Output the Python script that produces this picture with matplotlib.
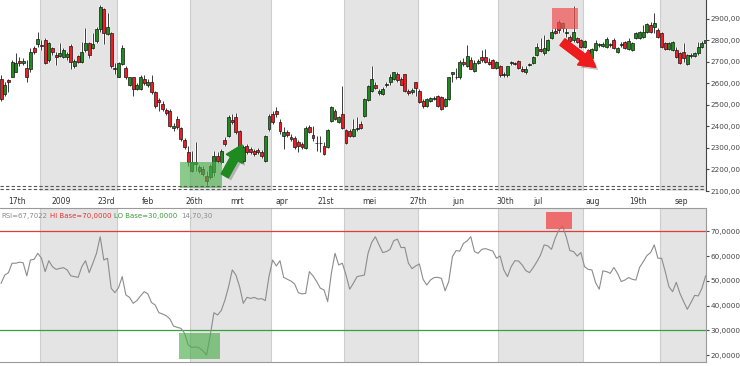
import matplotlib
matplotlib.use("Agg")
import matplotlib.pyplot as plt
import matplotlib.patheffects as pe
from matplotlib.patches import Rectangle
import numpy as np

# daily candles, mid Dec 2008 .. early Sep 2009
opens = [2619, 2549, 2614, 2632, 2655, 2706, 2697, 2674, 2665, 2766, 2785,
         2780, 2803, 2711, 2766, 2734, 2729, 2725, 2725, 2775, 2679, 2729, 2702, 2757, 2789, 2766, 2798, 2854, 2946, 2831, 2835, 2674,
         2632, 2692, 2674, 2591, 2628, 2572, 2572, 2619, 2591, 2609, 2559, 2522, 2503, 2475, 2471, 2392, 2434, 2392, 2337, 2282,
         2194, 2226, 2194, 2203, 2171, 2166, 2189, 2263, 2235, 2337, 2355, 2429, 2443, 2379, 2240, 2309, 2295, 2286, 2291, 2282, 2240, 2388,
         2457, 2471, 2420, 2355, 2374, 2351, 2346, 2328, 2318, 2300, 2397, 2360, 2325, 2321, 2309, 2305, 2425, 2471, 2420, 2457,
         2383, 2379, 2355, 2390, 2411, 2448, 2522, 2563, 2591, 2554, 2549, 2593, 2605, 2619, 2646, 2623, 2642, 2563, 2559, 2605,
         2563, 2517, 2494, 2517, 2529, 2540, 2535, 2494, 2526, 2642, 2632, 2628, 2702, 2679, 2711, 2660, 2697, 2725, 2725, 2702, 2711, 2674,
         2679, 2640, 2637, 2695, 2697, 2706, 2669, 2651, 2686, 2697, 2734, 2762, 2743, 2757, 2812, 2845, 2886, 2858, 2833, 2817, 2803, 2812, 2803,
         2771, 2743, 2720, 2757, 2778, 2775, 2771, 2782, 2803, 2748, 2778, 2794, 2762, 2757, 2812, 2812, 2817, 2840, 2872, 2863, 2849,
         2835, 2789, 2762, 2757, 2757, 2743, 2748, 2692, 2734, 2729, 2743, 2771, 2789]
highs = [2637, 2605, 2619, 2711, 2743, 2725, 2720, 2711, 2766, 2775, 2840,
         2803, 2812, 2794, 2771, 2748, 2789, 2766, 2748, 2785, 2715, 2734, 2794, 2858, 2794, 2835, 2863, 2965, 2951, 2928, 2840, 2697,
         2702, 2780, 2679, 2632, 2632, 2600, 2637, 2637, 2619, 2637, 2563, 2531, 2517, 2485, 2480, 2415, 2448, 2397, 2346, 2309,
         2286, 2328, 2222, 2217, 2194, 2226, 2286, 2282, 2295, 2351, 2452, 2457, 2462, 2383, 2314, 2318, 2305, 2295, 2300, 2291, 2360, 2457,
         2471, 2489, 2434, 2397, 2383, 2365, 2355, 2337, 2328, 2402, 2406, 2402, 2355, 2355, 2328, 2388, 2494, 2480, 2448, 2586,
         2388, 2388, 2434, 2443, 2425, 2531, 2595, 2679, 2605, 2572, 2582, 2605, 2642, 2655, 2651, 2632, 2646, 2572, 2577, 2609,
         2572, 2526, 2531, 2535, 2540, 2545, 2540, 2531, 2632, 2655, 2674, 2711, 2720, 2780, 2725, 2711, 2715, 2757, 2762, 2720, 2715, 2706,
         2688, 2651, 2683, 2706, 2702, 2711, 2679, 2683, 2697, 2729, 2789, 2812, 2826, 2808, 2854, 2858, 2895, 2886, 2858, 2826, 2960, 2817, 2808,
         2803, 2762, 2766, 2803, 2789, 2794, 2817, 2789, 2812, 2771, 2794, 2798, 2812, 2794, 2840, 2845, 2872, 2882, 2886, 2928, 2858,
         2840, 2794, 2794, 2798, 2771, 2748, 2789, 2738, 2743, 2748, 2794, 2798, 2812]
lows = [2517, 2540, 2559, 2628, 2651, 2679, 2688, 2609, 2655, 2738, 2771,
        2757, 2692, 2702, 2734, 2688, 2725, 2720, 2711, 2669, 2674, 2697, 2697, 2748, 2720, 2762, 2789, 2840, 2785, 2826, 2674, 2642,
        2628, 2688, 2623, 2586, 2540, 2568, 2568, 2591, 2582, 2549, 2485, 2471, 2471, 2452, 2397, 2379, 2388, 2332, 2295, 2217,
        2189, 2194, 2185, 2171, 2129, 2157, 2171, 2231, 2226, 2309, 2351, 2411, 2365, 2249, 2231, 2272, 2272, 2263, 2272, 2254, 2235, 2379,
        2411, 2443, 2365, 2295, 2351, 2332, 2295, 2282, 2295, 2295, 2369, 2332, 2286, 2282, 2268, 2300, 2420, 2429, 2415, 2388,
        2318, 2351, 2351, 2379, 2388, 2443, 2517, 2559, 2572, 2545, 2545, 2582, 2595, 2614, 2605, 2591, 2559, 2545, 2549, 2540,
        2508, 2485, 2489, 2512, 2522, 2489, 2475, 2489, 2522, 2609, 2623, 2623, 2679, 2675, 2665, 2655, 2692, 2702, 2697, 2688, 2670, 2669,
        2632, 2632, 2632, 2688, 2688, 2669, 2655, 2646, 2679, 2692, 2729, 2748, 2734, 2752, 2808, 2831, 2835, 2840, 2817, 2794, 2794, 2789, 2766,
        2766, 2738, 2715, 2752, 2771, 2771, 2766, 2771, 2762, 2743, 2771, 2762, 2757, 2752, 2808, 2808, 2812, 2835, 2835, 2835, 2812,
        2766, 2757, 2757, 2752, 2720, 2692, 2702, 2688, 2720, 2725, 2734, 2766, 2780]
closes = [2526, 2595, 2605, 2702, 2697, 2697, 2706, 2628, 2748, 2748, 2808,
          2775, 2697, 2789, 2748, 2725, 2743, 2757, 2738, 2702, 2706, 2702, 2748, 2789, 2734, 2785, 2854, 2955, 2835, 2863, 2679, 2665,
          2697, 2766, 2628, 2628, 2572, 2595, 2628, 2600, 2609, 2559, 2494, 2512, 2480, 2462, 2402, 2402, 2397, 2342, 2305, 2235,
          2235, 2235, 2212, 2180, 2148, 2217, 2263, 2240, 2286, 2318, 2443, 2420, 2374, 2259, 2305, 2282, 2282, 2272, 2282, 2263, 2355, 2448,
          2420, 2457, 2379, 2374, 2360, 2342, 2305, 2309, 2305, 2392, 2374, 2346, 2321, 2325, 2272, 2383, 2489, 2434, 2443, 2392,
          2323, 2355, 2388, 2394, 2392, 2526, 2586, 2623, 2577, 2563, 2572, 2597, 2632, 2651, 2614, 2595, 2563, 2554, 2568, 2577,
          2512, 2494, 2526, 2531, 2533, 2494, 2480, 2526, 2628, 2651, 2628, 2702, 2692, 2729, 2669, 2697, 2706, 2711, 2702, 2692, 2674, 2702,
          2637, 2644, 2679, 2699, 2692, 2674, 2660, 2669, 2690, 2725, 2771, 2752, 2766, 2803, 2840, 2835, 2849, 2882, 2837, 2798, 2840, 2794, 2771,
          2798, 2757, 2762, 2789, 2782, 2785, 2808, 2778, 2766, 2766, 2782, 2766, 2798, 2789, 2835, 2840, 2840, 2877, 2840, 2882, 2817,
          2771, 2762, 2789, 2794, 2725, 2697, 2720, 2734, 2729, 2743, 2771, 2789, 2803]

# RSI(14) per candle
rsi = [49.0, 52.3, 53.3, 57.1, 57.1, 57.5, 57.3, 52.0, 58.4, 58.7,
       61.1, 59.1, 53.7, 58.1, 55.7, 54.6, 55.0, 55.3, 54.4, 52.0,
       51.7, 51.4, 55.7, 58.1, 53.3, 57.1, 61.1, 67.8, 58.4, 59.1,
       47.0, 45.2, 47.2, 51.7, 44.3, 43.3, 40.9, 42.0, 43.9, 45.6,
       44.7, 41.2, 40.2, 37.1, 36.6, 35.9, 34.6, 31.7, 31.2, 30.8,
       28.8, 24.1, 23.1, 23.3, 22.9, 21.7, 20.0, 28.1, 37.1, 36.2,
       38.0, 42.2, 47.6, 54.4, 52.3, 47.6, 40.9, 43.3, 42.9, 43.3,
       42.6, 42.8, 42.0, 51.7, 58.4, 56.0, 58.1, 51.4, 50.6, 49.9,
       48.7, 45.2, 44.7, 44.9, 53.7, 52.0, 49.7, 47.0, 46.3, 41.6,
       53.0, 61.1, 56.4, 57.1, 52.3, 46.6, 49.0, 51.7, 52.0, 52.3,
       61.1, 65.5, 67.8, 64.5, 61.4, 61.8, 62.7, 66.2, 66.8, 63.4,
       63.5, 57.1, 54.9, 56.0, 56.8, 50.6, 48.3, 50.3, 51.3, 51.4,
       51.0, 46.0, 49.7, 59.8, 62.2, 62.0, 65.1, 66.1, 67.8, 61.8,
       61.1, 62.7, 63.0, 62.5, 62.0, 59.1, 60.0, 54.4, 51.7, 55.7,
       58.1, 58.0, 56.4, 54.1, 53.3, 55.3, 57.7, 60.4, 64.5, 64.1,
       62.7, 67.2, 70.5, 72.1, 67.8, 62.2, 61.8, 60.0, 61.4, 55.7,
       54.6, 54.4, 49.3, 46.6, 54.0, 53.7, 53.0, 55.4, 53.0, 49.7,
       50.3, 51.3, 50.6, 50.3, 55.4, 57.7, 60.2, 61.4, 64.5, 59.1,
       59.1, 53.7, 47.6, 45.6, 49.4, 44.9, 41.6, 38.5, 41.2, 44.1,
       43.9, 47.0, 52.0]

# first candle of each month (jan .. sep)
month_starts = [11, 32, 52, 74, 94, 114, 136, 159, 180]
tick_pos = [4.4, 16.3, 28.6, 40, 52.6, 64.3, 76.6, 88.6, 100.3, 113.6, 124.5, 137.3, 146.3, 161.3, 173.6, 185.3]
tick_labels = ["17th", "2009", "23rd", "feb", "26th", "mrt", "apr", "21st", "mei",
               "27th", "jun", "30th", "jul", "aug", "19th", "sep"]
price_ticks = [2100, 2200, 2300, 2400, 2500, 2600, 2700, 2800, 2900]
rsi_ticks = [20, 30, 40, 50, 60, 70]
legend_parts = ["RSI=67,7022", "HI Base=70,0000", "LO Base=30,0000", "14,70,30"]
legend_cols = ["#8a8a8a", "#e83030", "#3a9a3a", "#8a8a8a"]

o = np.array(opens); h = np.array(highs); l = np.array(lows); c = np.array(closes)
idx = np.arange(len(c))
xl = (-0.3, 192.1)

fig = plt.figure(figsize=(7.4, 3.66), dpi=100)
ax = fig.add_axes([0, 175/366, 706/740, 191/366])
ax2 = fig.add_axes([0, 4/366, 706/740, 154/366])

band_edges = [m - 0.5 for m in month_starts] + [xl[1]]
for a in (ax, ax2):
	for k in range(0, len(month_starts), 2):
		a.axvspan(band_edges[k], band_edges[k+1], color="#e4e4e4", lw=0, zorder=0)
	for e in band_edges[:-1]:
		a.axvline(e, color="#cdcdcd", lw=0.8, zorder=0.5)
	a.set_xlim(*xl)

# candles, with a faint white halo like the original
up = c >= o
cols = np.where(up, "#1c8c1c", "#ee1c24")
ax.vlines(idx, l, h, color="white", lw=2.2, alpha=0.8, zorder=1.5)
ax.vlines(idx, l, h, color="#3a3a3a", lw=0.7, zorder=2)
body = np.maximum(np.abs(c - o), 3)
ax.bar(idx, body, bottom=np.minimum(o, c), width=0.8, color=cols,
       edgecolor="#151515", linewidth=0.5, zorder=3)

ax.set_ylim(2106, 2988)
ax.add_patch(Rectangle((48.8, 2115), 11.4, 120, color="#4cae4c", alpha=0.65, lw=0, zorder=4))
ax.add_patch(Rectangle((150.1, 2854), 7.1, 97, color="#f05050", alpha=0.7, lw=0, zorder=4))

shadow = [pe.withSimplePatchShadow(offset=(2, -2), shadow_rgbFace="#555555", alpha=0.35), pe.Normal()]
astyle = "simple,head_length=0.75,head_width=0.85,tail_width=0.38"
ax.annotate("", xy=(66.0, 2325), xytext=(60.6, 2160), zorder=5,
            arrowprops=dict(arrowstyle=astyle, mutation_scale=15, color="#1f8a1f",
                            capstyle="round", path_effects=shadow))
ax.annotate("", xy=(162.6, 2668), xytext=(152.4, 2800), zorder=5,
            arrowprops=dict(arrowstyle=astyle, mutation_scale=15, color="#ee1c1c",
                            capstyle="round", path_effects=shadow))

ax.yaxis.tick_right()
ax.set_yticks(price_ticks, ["%d,00" % p for p in price_ticks])
ax.tick_params(axis="y", labelsize=5.2, colors="#444444", length=2, pad=1.5)
ax.set_xticks(tick_pos, tick_labels)
ax.tick_params(axis="x", labelsize=5.5, colors="#333333", length=0, pad=4)
for s in ("left", "top", "bottom"):
	ax.spines[s].set_visible(False)
ax.spines["right"].set_color("#444444")
ax.spines["right"].set_linewidth(0.8)
for yy in (0.026, 0.008):
	ax.plot([0, 1], [yy, yy], transform=ax.transAxes, ls=(0, (3, 2)), color="#555555", lw=0.8, zorder=6)

# RSI panel
ax2.plot(idx, rsi, color="#8c8c8c", lw=0.8, zorder=3)
ax2.axhline(70, color="#e03c3c", lw=0.9, zorder=2)
ax2.axhline(30, color="#38a038", lw=0.9, zorder=2)
ax2.set_ylim(17.2, 79.4)
ax2.add_patch(Rectangle((48.6, 18.4), 11.0, 10.5, color="#4cae4c", alpha=0.65, lw=0, zorder=4))
ax2.add_patch(Rectangle((148.5, 70.9), 7.2, 6.9, color="#f05050", alpha=0.8, lw=0, zorder=4))
ax2.yaxis.tick_right()
ax2.set_yticks(rsi_ticks, ["%d,0000" % r for r in rsi_ticks])
ax2.tick_params(axis="y", labelsize=5.2, colors="#444444", length=2, pad=1.5)
ax2.set_xticks([])
ax2.spines["left"].set_visible(False)
for s in ("right", "top", "bottom"):
	ax2.spines[s].set_color("#9a9a9a")
	ax2.spines[s].set_linewidth(0.8)

# indicator caption, pieces laid out one after another
fig.canvas.draw()
rend = fig.canvas.get_renderer()
ty = 1 - 215.5/366
x0 = 1
for txt, col in zip(legend_parts, legend_cols):
	t = fig.text(x0/740, ty, txt, fontsize=5.0, color=col, va="center")
	x0 = t.get_window_extent(rend).x1 + 3

fig.savefig("out.png", dpi=100)
